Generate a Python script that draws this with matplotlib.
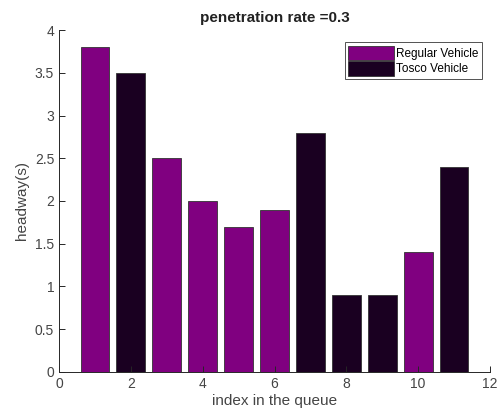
import matplotlib
matplotlib.use("Agg")
import matplotlib.pyplot as plt
from matplotlib.patches import Patch

plt.rcParams['font.family'] = ['Liberation Sans', 'DejaVu Sans']

index = [1, 2, 3, 4, 5, 6, 7, 8, 9, 10, 11]
headway = [3.8, 3.5, 2.5, 2.0, 1.7, 1.9, 2.8, 0.9, 0.9, 1.4, 2.4]
vehicle_type = ['Regular', 'Tosco', 'Regular', 'Regular', 'Regular', 'Regular',
                'Tosco', 'Tosco', 'Tosco', 'Regular', 'Tosco']
legend_labels = ['Regular Vehicle', 'Tosco Vehicle']

colors = {'Regular': '#800080', 'Tosco': '#1a0021'}

fig = plt.figure(figsize=(5, 4.17), dpi=100)
ax = fig.add_axes([0.118, 0.108, 0.862, 0.820])

ax.bar(index, headway, width=0.8,
       color=[colors[t] for t in vehicle_type],
       edgecolor='#333333', linewidth=0.6)

ax.set_xlim(0, 12)
ax.set_ylim(0, 4)
ax.set_xticks(range(0, 13, 2))
ax.set_yticks([0, 0.5, 1, 1.5, 2, 2.5, 3, 3.5, 4])
ax.set_yticklabels(['0', '0.5', '1', '1.5', '2', '2.5', '3', '3.5', '4'])
for s in ['top', 'right']:
    ax.spines[s].set_visible(False)
for s in ['left', 'bottom']:
    ax.spines[s].set_color('#262626')
    ax.spines[s].set_linewidth(0.7)
ax.tick_params(direction='in', length=4, width=0.7, colors='#262626',
               labelsize=10, labelcolor='#444444')

ax.set_xlabel('index in the queue', fontsize=11, color='#444444', labelpad=2)
ax.set_ylabel('headway(s)', fontsize=11, color='#444444', labelpad=4)
ax.set_title('penetration rate =0.3', fontsize=11, fontweight='bold',
             color='#222222', pad=6)

handles = [Patch(facecolor=colors['Regular'], edgecolor='#333333', linewidth=0.6),
           Patch(facecolor=colors['Tosco'], edgecolor='#333333', linewidth=0.6)]
leg = fig.legend(handles, legend_labels, loc='upper right',
                 bbox_to_anchor=(482 / 500, (417 - 42) / 417),
                 fontsize=8.5, frameon=True, fancybox=False,
                 handlelength=3.9, handleheight=1.5, handletextpad=0.15,
                 labelspacing=0.1, borderpad=0.3, borderaxespad=0)
leg.get_frame().set_edgecolor('#262626')
leg.get_frame().set_linewidth(0.7)

fig.savefig('out.png', dpi=100)
